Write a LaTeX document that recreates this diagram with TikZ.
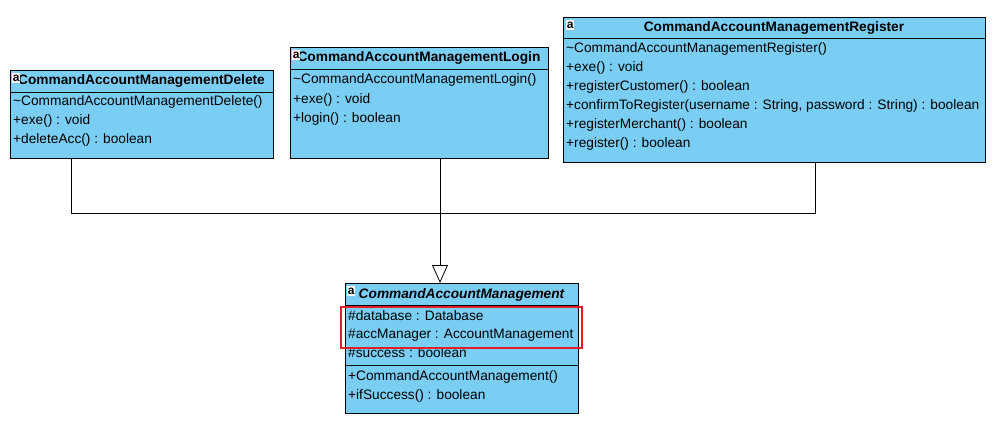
\documentclass[tikz,border=0pt]{standalone}
\usepackage{fontspec}
\setmainfont{Liberation Sans}
\usetikzlibrary{arrows.meta}
\definecolor{clsfill}{RGB}{122,206,244}
\definecolor{hilite}{RGB}{226,30,40}
\begin{document}
\begin{tikzpicture}[x=1pt,y=-1pt,
  classbox/.style={draw=black, fill=clsfill, line width=0.9pt, inner sep=0pt, outer sep=0pt, anchor=north west},
  member/.style={anchor=west, inner sep=0pt, font=\fontsize{13.7}{15}\selectfont},
  title/.style={anchor=center, inner sep=0pt, font=\fontsize{13.7}{15}\selectfont\bfseries},
  icon/.style={anchor=north west, fill=white, inner sep=0pt, minimum width=8pt, minimum height=10pt, font=\fontsize{12}{12}\selectfont\bfseries},
  sep/.style={line width=0.7pt},
  link/.style={line width=0.8pt},
  gen/.style={link, -{Triangle[open, length=18pt, width=16pt, line width=0.8pt]}}]
\useasboundingbox (0,0) rectangle (993,423);
\fill[white] (0,0) rectangle (993,423);

% --- CommandAccountManagementDelete ---
\node[classbox, minimum width=263pt, minimum height=88pt] (del) at (10,70) {};
\draw[sep] (del.west |- 0,92) -- (del.east |- 0,92);
\node[title] (deltitle) at (141.5,81) {CommandAccountManagementDelete};
\node[icon] (delicon) at (12,73) {a};
\node[member] (del1) at (13,102) {\textasciitilde CommandAccountManagementDelete()};
\node[member] (del2) at (13,121) {+exe() : void};
\node[member] (del3) at (13,140) {+deleteAcc() : boolean};

% --- CommandAccountManagementLogin ---
\node[classbox, minimum width=258pt, minimum height=111pt] (login) at (290,47) {};
\draw[sep] (login.west |- 0,69) -- (login.east |- 0,69);
\node[title] (logintitle) at (419,58) {CommandAccountManagementLogin};
\node[icon] (loginicon) at (292,50) {a};
\node[member] (login1) at (293,80) {\textasciitilde CommandAccountManagementLogin()};
\node[member] (login2) at (293,100) {+exe() : void};
\node[member] (login3) at (293,119) {+login() : boolean};

% --- CommandAccountManagementRegister ---
\node[classbox, minimum width=422pt, minimum height=145pt] (reg) at (563,17) {};
\draw[sep] (reg.west |- 0,38) -- (reg.east |- 0,38);
\node[title] (regtitle) at (774,28) {CommandAccountManagementRegister};
\node[icon] (regicon) at (566,20) {a};
\node[member] (reg1) at (566,49) {\textasciitilde CommandAccountManagementRegister()};
\node[member] (reg2) at (566,68) {+exe() : void};
\node[member] (reg3) at (566,87) {+registerCustomer() : boolean};
\node[member] (reg4) at (566,106) {+confirmToRegister(username : String, password : String) : boolean};
\node[member] (reg5) at (566,125) {+registerMerchant() : boolean};
\node[member] (reg6) at (566,144) {+register() : boolean};

% --- CommandAccountManagement (abstract) ---
\node[classbox, minimum width=233pt, minimum height=130pt] (abs) at (345,283) {};
\draw[sep] (abs.west |- 0,305) -- (abs.east |- 0,305);
\draw[sep] (abs.west |- 0,365) -- (abs.east |- 0,365);
\node[title, font=\fontsize{13.7}{15}\selectfont\bfseries\itshape] (abstitle) at (461.5,295) {CommandAccountManagement};
\node[icon] (absicon) at (347,286) {a};
\node[member] (abs1) at (348,316) {\#database : Database};
\node[member] (abs2) at (348,335) {\#accManager : AccountManagement};
\node[member] (abs3) at (348,353) {\#success : boolean};
\node[member] (abs4) at (348,377) {+CommandAccountManagement()};
\node[member] (abs5) at (348,396) {+ifSuccess() : boolean};

% highlight around the protected fields
\draw[hilite, line width=1.1pt] (341,307) rectangle (582,348);

% --- generalisation links ---
\coordinate (dx) at (71,213);
\coordinate (lx) at (440,213);
\coordinate (rx) at (815,213);
\draw[link] (del.south -| dx) -- (dx) -- (rx) -- (reg.south -| rx);
\draw[gen] (login.south -| lx) -- (abs.north -| lx);
\end{tikzpicture}
\end{document}
